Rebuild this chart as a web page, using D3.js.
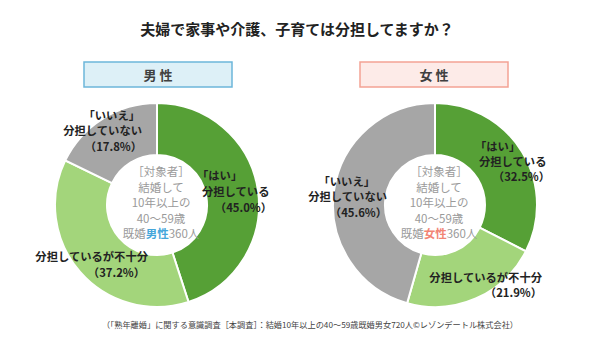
<!DOCTYPE html>
<html>
<head>
<meta charset="utf-8">
<script src="https://cdn.jsdelivr.net/npm/d3@7"></script>
<style>
  body { margin: 0; background: #fff; }
  text { font-family: "Noto Sans CJK JP", "Noto Sans", sans-serif; }
</style>
</head>
<body>
<div id="chart-container"></div>
<script>
// Size of the drawing
const svgWidth = 600;
const svgHeight = 341;

// Answer categories, in drawing order from 12 o'clock, clockwise
const categories = ['はい', '不十分', 'いいえ'];
const maleValues = [45.0, 37.2, 17.8];
const femaleValues = [32.5, 21.9, 45.6];
const groupNames = ['男 性', '女 性'];
const centerLines = ['［対象者］', '結婚して', '10年以上の', '40〜59歳'];

const colors = { 'はい': '#56a036', '不十分': '#a3d57b', 'いいえ': '#a6a6a6' };

const svg = d3.select('#chart-container')
  .append('svg')
  .attr('width', svgWidth)
  .attr('height', svgHeight);

// Title
svg.append('text')
  .attr('x', 297)
  .attr('y', 35)
  .attr('text-anchor', 'middle')
  .style('font-size', '15px')
  .style('font-weight', 'bold')
  .style('fill', '#222')
  .text('夫婦で家事や介護、子育ては分担してますか？');

// Footnote
svg.append('text')
  .attr('x', 310)
  .attr('y', 328)
  .attr('text-anchor', 'middle')
  .style('font-size', '8.2px')
  .style('fill', '#444')
  .text('（「熟年離婚」に関する意識調査［本調査］：結婚10年以上の40～59歳既婚男女720人©レゾンデートル株式会社）');

const outerR = 102;
const innerR = 50;

const pie = d3.pie().sort(null).value(d => d.value);
const arc = d3.arc().innerRadius(innerR).outerRadius(outerR);

// Label lines per donut: [text, dx, dy, anchor] relative to donut center
const maleLabels = {
  'はい': [['「はい」', 40, -25, 'start'], ['分担している', 45, -9, 'start'], ['（' + maleValues[0].toFixed(1) + '%）', 115, 7, 'end']],
  '不十分': [['分担しているが不十分', -9, 56, 'end'], ['（' + maleValues[1].toFixed(1) + '%）', -12, 72, 'end']],
  'いいえ': [['「いいえ」', -17, -85, 'end'], ['分担していない', -15, -70, 'end'], ['（' + maleValues[2].toFixed(1) + '%）', -15, -54, 'end']]
};
const femaleLabels = {
  'はい': [['「はい」', 40, -54, 'start'], ['分担している', 44, -39, 'start'], ['（' + femaleValues[0].toFixed(1) + '%）', 115, -24, 'end']],
  '不十分': [['分担しているが不十分', 107, 77, 'end'], ['（' + femaleValues[1].toFixed(1) + '%）', 107, 92, 'end']],
  'いいえ': [['「いいえ」', -60, -19, 'end'], ['分担していない', -48, -4, 'end'], ['（' + femaleValues[2].toFixed(1) + '%）', -48, 12, 'end']]
};

drawDonut(157, 205, maleValues, maleLabels, groupNames[0], '#ddf0f7', '#6cb6da', '男性', '#45a6da', 158);
drawDonut(435, 205, femaleValues, femaleLabels, groupNames[1], '#fdebe8', '#f3a294', '女性', '#f28475', 434);

function drawDonut(cx, cy, values, labels, name, boxFill, boxStroke, keyword, keyColor, boxCx) {
  // Heading box
  svg.append('rect')
    .attr('x', boxCx - 74)
    .attr('y', 62)
    .attr('width', 148)
    .attr('height', 25)
    .attr('fill', boxFill)
    .attr('stroke', boxStroke)
    .attr('stroke-width', 1.5);
  svg.append('text')
    .attr('x', boxCx)
    .attr('y', 79.5)
    .attr('text-anchor', 'middle')
    .style('font-size', '13px')
    .style('font-weight', 'bold')
    .style('fill', '#404040')
    .text(name);

  const data = categories.map((c, i) => ({ cat: c, value: values[i] }));
  const g = svg.append('g').attr('transform', 'translate(' + cx + ',' + cy + ')');

  g.selectAll('path')
    .data(pie(data))
    .enter()
    .append('path')
    .attr('d', arc)
    .attr('fill', d => colors[d.data.cat])
    .attr('stroke', '#fff')
    .attr('stroke-width', 2);

  // Slice labels
  categories.forEach(c => {
    labels[c].forEach(([t, dx, dy, anchor]) => {
      g.append('text')
        .attr('x', dx)
        .attr('y', dy)
        .attr('text-anchor', anchor)
        .style('font-size', '11.3px')
        .style('font-weight', 'bold')
        .style('fill', '#222')
        .text(t);
    });
  });

  // Text in the hole
  const center = g.append('text')
    .attr('text-anchor', 'middle')
    .style('font-size', '11.5px')
    .style('fill', '#9a9a9a');
  centerLines.forEach((t, i) => {
    center.append('tspan').attr('x', 4).attr('y', -29 + i * 15.5).text(t);
  });
  const last = center.append('tspan').attr('x', 4).attr('y', -29 + 4 * 15.5);
  last.append('tspan').text('既婚');
  last.append('tspan').style('fill', keyColor).style('font-weight', 'bold').text(keyword);
  last.append('tspan').text('360人');
}
</script>
</body>
</html>
